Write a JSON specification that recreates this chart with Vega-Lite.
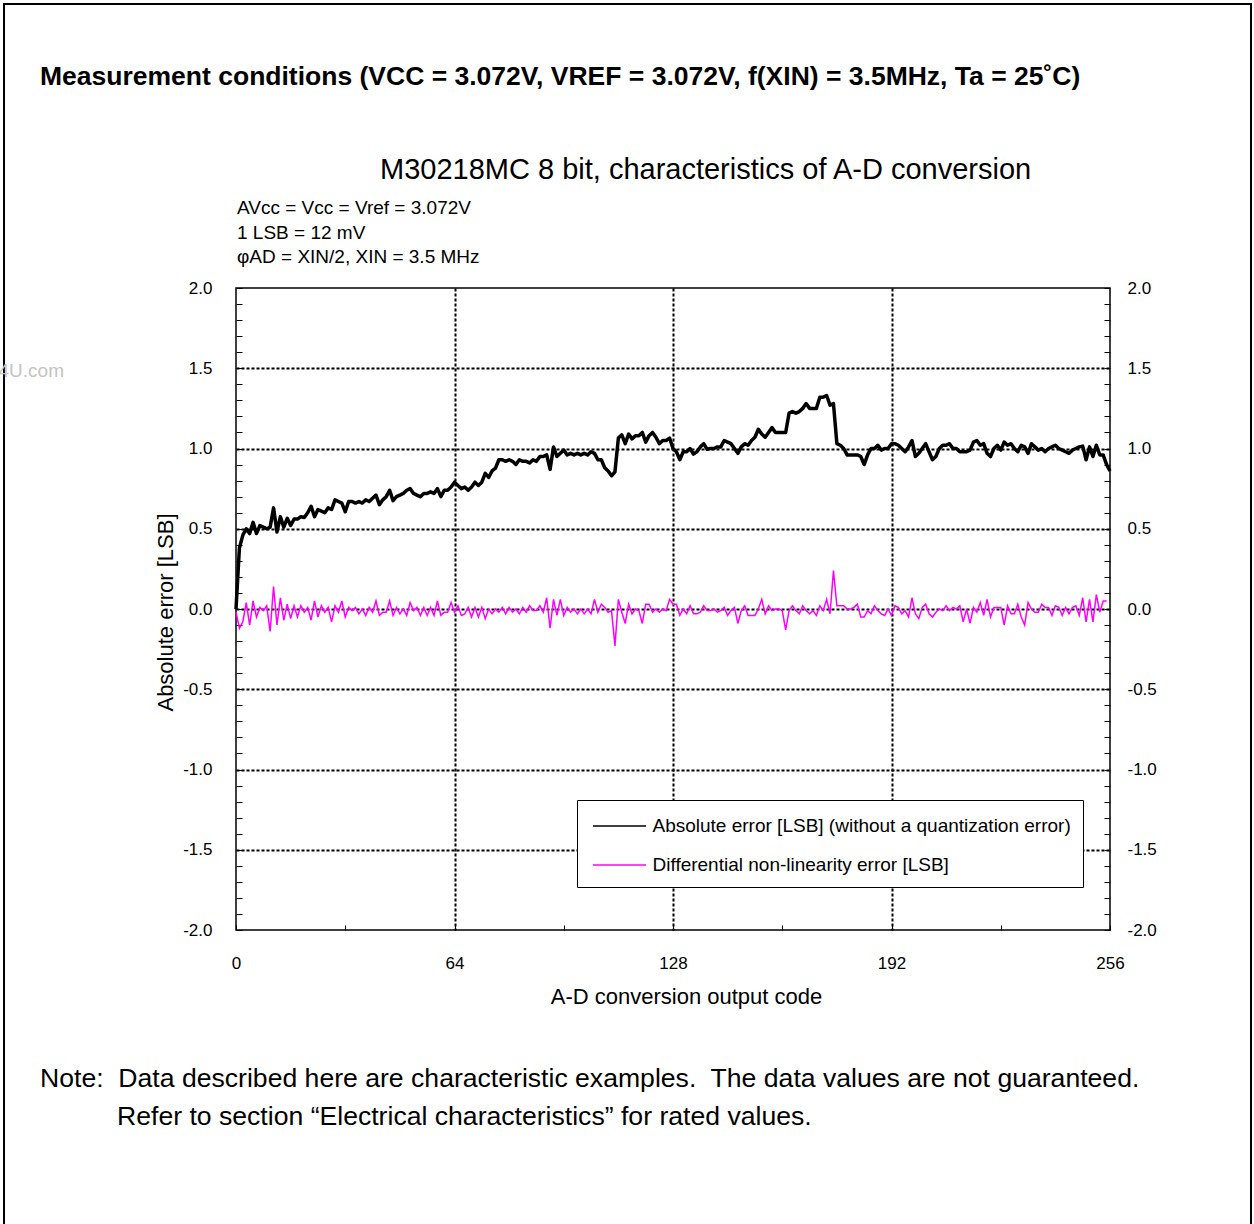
{
  "$schema": "https://vega.github.io/schema/vega-lite/v6.json",
  "width": 874,
  "height": 642,
  "autosize": {"type": "none"},
  "padding": {"left": 236, "top": 288, "right": 144, "bottom": 294},
  "background": "white",
  "config": {
    "font": "Liberation Sans",
    "view": {"stroke": "black", "strokeWidth": 1.5},
    "axis": {"domain": false, "labelColor": "black", "tickColor": "black", "titleColor": "black", "labelFontSize": 17, "titleFontSize": 22, "titleFontWeight": "normal", "labelFont": "Liberation Sans", "titleFont": "Liberation Sans"},
    "text": {"font": "Liberation Sans", "color": "black"}
  },
  "datasets": {
    "abs": [
      {"code":0,"lsb":0},{"code":1,"lsb":0.38},{"code":2,"lsb":0.46},{"code":3,"lsb":0.5},{"code":4,"lsb":0.47},{"code":5,"lsb":0.54},{"code":6,"lsb":0.47},{"code":7,"lsb":0.52},{"code":8,"lsb":0.51},{"code":9,"lsb":0.5},
      {"code":10,"lsb":0.51},{"code":11,"lsb":0.63},{"code":12,"lsb":0.48},{"code":13,"lsb":0.575},{"code":14,"lsb":0.51},{"code":15,"lsb":0.565},{"code":16,"lsb":0.52},{"code":17,"lsb":0.56},{"code":18,"lsb":0.56},{"code":19,"lsb":0.575},
      {"code":20,"lsb":0.57},{"code":21,"lsb":0.6},{"code":22,"lsb":0.64},{"code":23,"lsb":0.575},{"code":24,"lsb":0.62},{"code":25,"lsb":0.61},{"code":26,"lsb":0.6},{"code":27,"lsb":0.63},{"code":28,"lsb":0.62},{"code":29,"lsb":0.68},
      {"code":30,"lsb":0.67},{"code":31,"lsb":0.66},{"code":32,"lsb":0.606},{"code":33,"lsb":0.67},{"code":34,"lsb":0.67},{"code":35,"lsb":0.66},{"code":36,"lsb":0.67},{"code":37,"lsb":0.66},{"code":38,"lsb":0.68},{"code":39,"lsb":0.67},
      {"code":40,"lsb":0.69},{"code":41,"lsb":0.71},{"code":42,"lsb":0.65},{"code":43,"lsb":0.68},{"code":44,"lsb":0.7},{"code":45,"lsb":0.74},{"code":46,"lsb":0.675},{"code":47,"lsb":0.7},{"code":48,"lsb":0.71},{"code":49,"lsb":0.72},
      {"code":50,"lsb":0.74},{"code":51,"lsb":0.75},{"code":52,"lsb":0.72},{"code":53,"lsb":0.71},{"code":54,"lsb":0.7},{"code":55,"lsb":0.72},{"code":56,"lsb":0.72},{"code":57,"lsb":0.73},{"code":58,"lsb":0.72},{"code":59,"lsb":0.75},
      {"code":60,"lsb":0.7},{"code":61,"lsb":0.74},{"code":62,"lsb":0.74},{"code":63,"lsb":0.76},{"code":64,"lsb":0.79},{"code":65,"lsb":0.77},{"code":66,"lsb":0.75},{"code":67,"lsb":0.76},{"code":68,"lsb":0.74},{"code":69,"lsb":0.76},
      {"code":70,"lsb":0.79},{"code":71,"lsb":0.77},{"code":72,"lsb":0.79},{"code":73,"lsb":0.845},{"code":74,"lsb":0.82},{"code":75,"lsb":0.86},{"code":76,"lsb":0.877},{"code":77,"lsb":0.93},{"code":78,"lsb":0.93},{"code":79,"lsb":0.92},
      {"code":80,"lsb":0.93},{"code":81,"lsb":0.92},{"code":82,"lsb":0.9},{"code":83,"lsb":0.93},{"code":84,"lsb":0.92},{"code":85,"lsb":0.92},{"code":86,"lsb":0.91},{"code":87,"lsb":0.93},{"code":88,"lsb":0.92},{"code":89,"lsb":0.95},
      {"code":90,"lsb":0.95},{"code":91,"lsb":0.96},{"code":92,"lsb":0.87},{"code":93,"lsb":1.01},{"code":94,"lsb":0.95},{"code":95,"lsb":0.97},{"code":96,"lsb":0.99},{"code":97,"lsb":0.96},{"code":98,"lsb":0.97},{"code":99,"lsb":0.96},
      {"code":100,"lsb":0.97},{"code":101,"lsb":0.96},{"code":102,"lsb":0.97},{"code":103,"lsb":0.96},{"code":104,"lsb":0.98},{"code":105,"lsb":0.97},{"code":106,"lsb":0.93},{"code":107,"lsb":0.93},{"code":108,"lsb":0.88},{"code":109,"lsb":0.86},
      {"code":110,"lsb":0.83},{"code":111,"lsb":0.855},{"code":112,"lsb":1.065},{"code":113,"lsb":1.085},{"code":114,"lsb":1.03},{"code":115,"lsb":1.09},{"code":116,"lsb":1.06},{"code":117,"lsb":1.08},{"code":118,"lsb":1.08},{"code":119,"lsb":1.1},
      {"code":120,"lsb":1.04},{"code":121,"lsb":1.08},{"code":122,"lsb":1.1},{"code":123,"lsb":1.07},{"code":124,"lsb":1.03},{"code":125,"lsb":1.05},{"code":126,"lsb":1.05},{"code":127,"lsb":1.065},{"code":128,"lsb":1.0},{"code":129,"lsb":0.98},
      {"code":130,"lsb":0.93},{"code":131,"lsb":0.98},{"code":132,"lsb":0.98},{"code":133,"lsb":1.0},{"code":134,"lsb":0.965},{"code":135,"lsb":0.98},{"code":136,"lsb":1.01},{"code":137,"lsb":1.03},{"code":138,"lsb":0.995},{"code":139,"lsb":1.0},
      {"code":140,"lsb":1.0},{"code":141,"lsb":1.01},{"code":142,"lsb":1.01},{"code":143,"lsb":1.05},{"code":144,"lsb":1.04},{"code":145,"lsb":1.03},{"code":146,"lsb":1.0},{"code":147,"lsb":0.97},{"code":148,"lsb":1.01},{"code":149,"lsb":1.03},
      {"code":150,"lsb":1.02},{"code":151,"lsb":1.05},{"code":152,"lsb":1.07},{"code":153,"lsb":1.12},{"code":154,"lsb":1.09},{"code":155,"lsb":1.07},{"code":156,"lsb":1.1},{"code":157,"lsb":1.13},{"code":158,"lsb":1.1},{"code":159,"lsb":1.1},
      {"code":160,"lsb":1.1},{"code":161,"lsb":1.1},{"code":162,"lsb":1.22},{"code":163,"lsb":1.23},{"code":164,"lsb":1.22},{"code":165,"lsb":1.23},{"code":166,"lsb":1.25},{"code":167,"lsb":1.28},{"code":168,"lsb":1.25},{"code":169,"lsb":1.25},
      {"code":170,"lsb":1.25},{"code":171,"lsb":1.32},{"code":172,"lsb":1.32},{"code":173,"lsb":1.33},{"code":174,"lsb":1.27},{"code":175,"lsb":1.28},{"code":176,"lsb":1.03},{"code":177,"lsb":1.02},{"code":178,"lsb":1.0},{"code":179,"lsb":0.96},
      {"code":180,"lsb":0.96},{"code":181,"lsb":0.96},{"code":182,"lsb":0.96},{"code":183,"lsb":0.95},{"code":184,"lsb":0.9},{"code":185,"lsb":0.96},{"code":186,"lsb":1.0},{"code":187,"lsb":1.0},{"code":188,"lsb":1.02},{"code":189,"lsb":0.99},
      {"code":190,"lsb":1.0},{"code":191,"lsb":1.0},{"code":192,"lsb":1.03},{"code":193,"lsb":1.03},{"code":194,"lsb":1.02},{"code":195,"lsb":1.0},{"code":196,"lsb":0.98},{"code":197,"lsb":1.01},{"code":198,"lsb":1.05},{"code":199,"lsb":0.95},
      {"code":200,"lsb":0.97},{"code":201,"lsb":1.0},{"code":202,"lsb":1.03},{"code":203,"lsb":0.98},{"code":204,"lsb":0.93},{"code":205,"lsb":0.95},{"code":206,"lsb":1.0},{"code":207,"lsb":1.02},{"code":208,"lsb":1.02},{"code":209,"lsb":1.03},
      {"code":210,"lsb":1.0},{"code":211,"lsb":1.0},{"code":212,"lsb":0.98},{"code":213,"lsb":0.98},{"code":214,"lsb":0.98},{"code":215,"lsb":0.99},{"code":216,"lsb":1.04},{"code":217,"lsb":1.05},{"code":218,"lsb":1.02},{"code":219,"lsb":1.03},
      {"code":220,"lsb":0.97},{"code":221,"lsb":0.95},{"code":222,"lsb":1.0},{"code":223,"lsb":1.02},{"code":224,"lsb":0.99},{"code":225,"lsb":1.04},{"code":226,"lsb":1.02},{"code":227,"lsb":1.03},{"code":228,"lsb":1.0},{"code":229,"lsb":0.98},
      {"code":230,"lsb":1.02},{"code":231,"lsb":1.01},{"code":232,"lsb":0.97},{"code":233,"lsb":1.03},{"code":234,"lsb":1.01},{"code":235,"lsb":0.99},{"code":236,"lsb":1.0},{"code":237,"lsb":0.98},{"code":238,"lsb":1.0},{"code":239,"lsb":1.01},
      {"code":240,"lsb":1.02},{"code":241,"lsb":1.0},{"code":242,"lsb":0.99},{"code":243,"lsb":0.98},{"code":244,"lsb":0.97},{"code":245,"lsb":0.99},{"code":246,"lsb":1.0},{"code":247,"lsb":1.01},{"code":248,"lsb":1.015},{"code":249,"lsb":0.93},
      {"code":250,"lsb":1.01},{"code":251,"lsb":0.95},{"code":252,"lsb":1.02},{"code":253,"lsb":0.96},{"code":254,"lsb":0.96},{"code":255,"lsb":0.9},{"code":256,"lsb":0.86}
    ],
    "dnl": [
      {"code":0,"lsb":-0.02},{"code":1,"lsb":-0.12},{"code":2,"lsb":-0.08},{"code":3,"lsb":0.04},{"code":4,"lsb":-0.1},{"code":5,"lsb":0.05},{"code":6,"lsb":-0.05},{"code":7,"lsb":0.01},{"code":8,"lsb":-0.01},{"code":9,"lsb":0.02},
      {"code":10,"lsb":-0.14},{"code":11,"lsb":0.14},{"code":12,"lsb":-0.1},{"code":13,"lsb":0.07},{"code":14,"lsb":-0.07},{"code":15,"lsb":0.03},{"code":16,"lsb":-0.06},{"code":17,"lsb":0.02},{"code":18,"lsb":-0.05},{"code":19,"lsb":0.02},
      {"code":20,"lsb":-0.02},{"code":21,"lsb":0.01},{"code":22,"lsb":-0.07},{"code":23,"lsb":0.05},{"code":24,"lsb":-0.05},{"code":25,"lsb":0.02},{"code":26,"lsb":-0.02},{"code":27,"lsb":0.01},{"code":28,"lsb":-0.08},{"code":29,"lsb":0.02},
      {"code":30,"lsb":-0.02},{"code":31,"lsb":0.05},{"code":32,"lsb":-0.05},{"code":33,"lsb":0.01},{"code":34,"lsb":-0.01},{"code":35,"lsb":0.01},{"code":36,"lsb":-0.03},{"code":37,"lsb":0.0},{"code":38,"lsb":-0.04},{"code":39,"lsb":0.01},
      {"code":40,"lsb":-0.02},{"code":41,"lsb":0.05},{"code":42,"lsb":-0.04},{"code":43,"lsb":-0.02},{"code":44,"lsb":-0.02},{"code":45,"lsb":0.05},{"code":46,"lsb":-0.04},{"code":47,"lsb":0.01},{"code":48,"lsb":-0.03},{"code":49,"lsb":0.0},
      {"code":50,"lsb":-0.04},{"code":51,"lsb":0.04},{"code":52,"lsb":-0.01},{"code":53,"lsb":0.01},{"code":54,"lsb":-0.04},{"code":55,"lsb":0.01},{"code":56,"lsb":-0.04},{"code":57,"lsb":0.01},{"code":58,"lsb":-0.04},{"code":59,"lsb":0.05},
      {"code":60,"lsb":-0.04},{"code":61,"lsb":-0.02},{"code":62,"lsb":-0.02},{"code":63,"lsb":0.04},{"code":64,"lsb":-0.02},{"code":65,"lsb":0.02},{"code":66,"lsb":-0.04},{"code":67,"lsb":-0.03},{"code":68,"lsb":0.01},{"code":69,"lsb":-0.05},
      {"code":70,"lsb":0.01},{"code":71,"lsb":-0.05},{"code":72,"lsb":0.01},{"code":73,"lsb":-0.06},{"code":74,"lsb":0.0},{"code":75,"lsb":-0.03},{"code":76,"lsb":0.0},{"code":77,"lsb":-0.02},{"code":78,"lsb":0.01},{"code":79,"lsb":-0.03},
      {"code":80,"lsb":0.01},{"code":81,"lsb":-0.02},{"code":82,"lsb":0.0},{"code":83,"lsb":-0.03},{"code":84,"lsb":0.01},{"code":85,"lsb":-0.02},{"code":86,"lsb":0.02},{"code":87,"lsb":-0.01},{"code":88,"lsb":-0.01},{"code":89,"lsb":0.02},
      {"code":90,"lsb":-0.02},{"code":91,"lsb":0.07},{"code":92,"lsb":-0.12},{"code":93,"lsb":0.06},{"code":94,"lsb":-0.04},{"code":95,"lsb":0.06},{"code":96,"lsb":-0.04},{"code":97,"lsb":0.01},{"code":98,"lsb":-0.02},{"code":99,"lsb":0.0},
      {"code":100,"lsb":-0.03},{"code":101,"lsb":0.0},{"code":102,"lsb":-0.03},{"code":103,"lsb":0.0},{"code":104,"lsb":-0.03},{"code":105,"lsb":0.06},{"code":106,"lsb":-0.02},{"code":107,"lsb":0.03},{"code":108,"lsb":0.01},{"code":109,"lsb":-0.02},
      {"code":110,"lsb":-0.01},{"code":111,"lsb":-0.23},{"code":112,"lsb":0.06},{"code":113,"lsb":-0.02},{"code":114,"lsb":-0.09},{"code":115,"lsb":0.03},{"code":116,"lsb":-0.03},{"code":117,"lsb":0.0},{"code":118,"lsb":-0.01},{"code":119,"lsb":-0.09},
      {"code":120,"lsb":0.03},{"code":121,"lsb":0.03},{"code":122,"lsb":-0.02},{"code":123,"lsb":0.0},{"code":124,"lsb":-0.02},{"code":125,"lsb":0.0},{"code":126,"lsb":-0.01},{"code":127,"lsb":0.06},{"code":128,"lsb":0.03},{"code":129,"lsb":0.03},
      {"code":130,"lsb":-0.04},{"code":131,"lsb":0.0},{"code":132,"lsb":-0.03},{"code":133,"lsb":0.02},{"code":134,"lsb":-0.03},{"code":135,"lsb":-0.03},{"code":136,"lsb":-0.02},{"code":137,"lsb":0.02},{"code":138,"lsb":-0.01},{"code":139,"lsb":-0.01},
      {"code":140,"lsb":0.0},{"code":141,"lsb":-0.02},{"code":142,"lsb":-0.01},{"code":143,"lsb":0.01},{"code":144,"lsb":-0.04},{"code":145,"lsb":-0.01},{"code":146,"lsb":0.01},{"code":147,"lsb":-0.09},{"code":148,"lsb":-0.01},{"code":149,"lsb":0.02},
      {"code":150,"lsb":-0.04},{"code":151,"lsb":-0.04},{"code":152,"lsb":-0.04},{"code":153,"lsb":0.0},{"code":154,"lsb":0.06},{"code":155,"lsb":-0.03},{"code":156,"lsb":0.02},{"code":157,"lsb":-0.01},{"code":158,"lsb":0.0},{"code":159,"lsb":0.0},
      {"code":160,"lsb":-0.01},{"code":161,"lsb":-0.13},{"code":162,"lsb":-0.01},{"code":163,"lsb":0.02},{"code":164,"lsb":-0.01},{"code":165,"lsb":-0.03},{"code":166,"lsb":0.02},{"code":167,"lsb":-0.01},{"code":168,"lsb":-0.03},{"code":169,"lsb":-0.01},
      {"code":170,"lsb":-0.04},{"code":171,"lsb":0.02},{"code":172,"lsb":-0.01},{"code":173,"lsb":0.06},{"code":174,"lsb":-0.03},{"code":175,"lsb":0.24},{"code":176,"lsb":0.02},{"code":177,"lsb":0.02},{"code":178,"lsb":0.02},{"code":179,"lsb":0.0},
      {"code":180,"lsb":0.0},{"code":181,"lsb":0.01},{"code":182,"lsb":0.03},{"code":183,"lsb":-0.05},{"code":184,"lsb":-0.05},{"code":185,"lsb":-0.01},{"code":186,"lsb":-0.03},{"code":187,"lsb":0.02},{"code":188,"lsb":-0.01},{"code":189,"lsb":-0.03},
      {"code":190,"lsb":-0.04},{"code":191,"lsb":0.0},{"code":192,"lsb":-0.04},{"code":193,"lsb":0.02},{"code":194,"lsb":0.01},{"code":195,"lsb":-0.03},{"code":196,"lsb":-0.01},{"code":197,"lsb":-0.05},{"code":198,"lsb":0.07},{"code":199,"lsb":-0.03},
      {"code":200,"lsb":-0.06},{"code":201,"lsb":0.01},{"code":202,"lsb":0.03},{"code":203,"lsb":-0.03},{"code":204,"lsb":-0.05},{"code":205,"lsb":-0.02},{"code":206,"lsb":0.0},{"code":207,"lsb":-0.01},{"code":208,"lsb":0.02},{"code":209,"lsb":-0.01},
      {"code":210,"lsb":0.01},{"code":211,"lsb":0.0},{"code":212,"lsb":0.02},{"code":213,"lsb":-0.08},{"code":214,"lsb":0.0},{"code":215,"lsb":-0.09},{"code":216,"lsb":0.01},{"code":217,"lsb":-0.02},{"code":218,"lsb":0.04},{"code":219,"lsb":-0.04},
      {"code":220,"lsb":0.06},{"code":221,"lsb":-0.05},{"code":222,"lsb":0.01},{"code":223,"lsb":0.01},{"code":224,"lsb":0.01},{"code":225,"lsb":-0.1},{"code":226,"lsb":0.02},{"code":227,"lsb":-0.03},{"code":228,"lsb":-0.03},{"code":229,"lsb":0.03},
      {"code":230,"lsb":-0.05},{"code":231,"lsb":-0.1},{"code":232,"lsb":0.04},{"code":233,"lsb":0.0},{"code":234,"lsb":-0.02},{"code":235,"lsb":-0.02},{"code":236,"lsb":0.03},{"code":237,"lsb":0.01},{"code":238,"lsb":0.01},{"code":239,"lsb":-0.04},
      {"code":240,"lsb":0.02},{"code":241,"lsb":0.01},{"code":242,"lsb":-0.04},{"code":243,"lsb":0.01},{"code":244,"lsb":-0.03},{"code":245,"lsb":0.01},{"code":246,"lsb":0.02},{"code":247,"lsb":-0.04},{"code":248,"lsb":0.07},{"code":249,"lsb":-0.08},
      {"code":250,"lsb":0.06},{"code":251,"lsb":-0.08},{"code":252,"lsb":0.09},{"code":253,"lsb":-0.02},{"code":254,"lsb":0.05},{"code":255,"lsb":0.05}
    ]
  },
  "resolve": {"axis": {"y": "independent"}},
  "layer": [
    {
      "data": {"name": "abs"},
      "mark": {"type": "line", "color": "black", "strokeWidth": 3.5, "strokeJoin": "round"},
      "encoding": {
        "x": {"field": "code", "type": "quantitative", "scale": {"domain": [0, 256], "nice": false, "zero": false},
          "axis": {"title": "A-D conversion output code", "values": [0, 32, 64, 96, 128, 160, 192, 224, 256],
            "labelExpr": "datum.value % 64 == 0 ? datum.label : ''", "labelPadding": 30, "tickSize": -5, "labelFlush": false,
            "grid": true, "gridColor": "black", "gridDash": [3, 2], "gridWidth": 2,
            "gridOpacity": {"condition": {"test": "datum.value == 64 || datum.value == 128 || datum.value == 192", "value": 1}, "value": 0},
            "titleX": 450, "titleY": 66, "titleBaseline": "middle"}},
        "y": {"field": "lsb", "type": "quantitative", "scale": {"domain": [-2, 2], "nice": false, "zero": false},
          "axis": {"orient": "left", "title": "Absolute error [LSB]",
            "values": [-2, -1.9, -1.8, -1.7, -1.6, -1.5, -1.4, -1.3, -1.2, -1.1, -1, -0.9, -0.8, -0.7, -0.6, -0.5, -0.4, -0.3, -0.2, -0.1, 0, 0.1, 0.2, 0.3, 0.4, 0.5, 0.6, 0.7, 0.8, 0.9, 1, 1.1, 1.2, 1.3, 1.4, 1.5, 1.6, 1.7, 1.8, 1.9, 2],
            "labelExpr": "abs(datum.value*2 - round(datum.value*2)) < 0.01 ? replace(format(datum.value, '.1f'), '\u2212', '-') : ''",
            "labelPadding": 30, "tickSize": -6,
            "grid": true, "gridColor": "black", "gridDash": [3, 2], "gridWidth": 2,
            "gridOpacity": {"condition": {"test": "abs(datum.value) < 1.9 && abs(datum.value*2 - round(datum.value*2)) < 0.01", "value": 1}, "value": 0},
            "titleAngle": -90, "titleX": -71, "titleY": 324, "titleBaseline": "middle", "titleAlign": "center"}},
        "color": {"datum": "Absolute error [LSB] (without a quantization error)", "type": "nominal",
          "scale": {"domain": ["Absolute error [LSB] (without a quantization error)", "Differential non-linearity error [LSB]"], "range": ["#000000", "#ff00ff"]},
          "legend": {"title": null, "orient": "none", "legendX": 341, "legendY": 512, "padding": 12, "strokeColor": "black", "fillColor": "white",
            "symbolType": "M-2,0H2", "symbolSize": 702.25, "symbolStrokeWidth": 1.5, "symbolOffset": 16.5, "labelFontSize": 19, "labelOffset": 19, "labelLimit": 600, "rowPadding": 15, "labelColor": "black"}}
      }
    },
    {
      "data": {"name": "dnl"},
      "mark": {"type": "line", "color": "#ff00ff", "strokeWidth": 1.5},
      "encoding": {
        "x": {"field": "code", "type": "quantitative", "scale": {"domain": [0, 256], "nice": false, "zero": false},
          "axis": {"title": "A-D conversion output code", "values": [0, 32, 64, 96, 128, 160, 192, 224, 256],
            "labelExpr": "datum.value % 64 == 0 ? datum.label : ''", "labelPadding": 30, "tickSize": -5, "labelFlush": false,
            "grid": true, "gridColor": "black", "gridDash": [3, 2], "gridWidth": 2,
            "gridOpacity": {"condition": {"test": "datum.value == 64 || datum.value == 128 || datum.value == 192", "value": 1}, "value": 0},
            "titleX": 450, "titleY": 66, "titleBaseline": "middle"}},
        "y": {"field": "lsb", "type": "quantitative", "scale": {"domain": [-2, 2], "nice": false, "zero": false},
          "axis": {"orient": "right", "title": null,
            "values": [-2, -1.9, -1.8, -1.7, -1.6, -1.5, -1.4, -1.3, -1.2, -1.1, -1, -0.9, -0.8, -0.7, -0.6, -0.5, -0.4, -0.3, -0.2, -0.1, 0, 0.1, 0.2, 0.3, 0.4, 0.5, 0.6, 0.7, 0.8, 0.9, 1, 1.1, 1.2, 1.3, 1.4, 1.5, 1.6, 1.7, 1.8, 1.9, 2],
            "labelExpr": "abs(datum.value*2 - round(datum.value*2)) < 0.01 ? replace(format(datum.value, '.1f'), '\u2212', '-') : ''",
            "labelPadding": 23, "tickSize": -6, "grid": false}},
        "color": {"datum": "Differential non-linearity error [LSB]", "type": "nominal",
          "scale": {"domain": ["Absolute error [LSB] (without a quantization error)", "Differential non-linearity error [LSB]"], "range": ["#000000", "#ff00ff"]},
          "legend": {"title": null, "orient": "none", "legendX": 341, "legendY": 512, "padding": 12, "strokeColor": "black", "fillColor": "white",
            "symbolType": "M-2,0H2", "symbolSize": 702.25, "symbolStrokeWidth": 1.5, "symbolOffset": 16.5, "labelFontSize": 19, "labelOffset": 19, "labelLimit": 600, "rowPadding": 15, "labelColor": "black"}}
      }
    },
    {
      "data": {"values": [{}]},
      "mark": {"type": "rect", "fill": null, "fillOpacity": 0, "stroke": "black", "strokeWidth": 2},
      "encoding": {
        "x": {"datum": -67.95, "type": "quantitative", "scale": {"domain": [0, 256], "nice": false, "zero": false}},
        "x2": {"datum": 297.3},
        "y": {"datum": 3.769, "type": "quantitative", "scale": {"domain": [-2, 2], "nice": false, "zero": false}, "axis": null},
        "y2": {"datum": -5}
      }
    },
    {
      "data": {"values": [{}]},
      "mark": {"type": "text", "text": "Measurement conditions (VCC = 3.072V, VREF = 3.072V, f(XIN) = 3.5MHz, Ta = 25˚C)", "align": "left", "baseline": "middle", "fontSize": 26.5, "fontWeight": "bold"},
      "encoding": {
        "x": {"datum": -57.41, "type": "quantitative", "scale": {"domain": [0, 256], "nice": false, "zero": false}},
        "y": {"datum": 3.3146, "type": "quantitative", "scale": {"domain": [-2, 2], "nice": false, "zero": false}, "axis": null}
      }
    },
    {
      "data": {"values": [{}]},
      "mark": {"type": "text", "text": "M30218MC 8 bit, characteristics of A-D conversion", "align": "left", "baseline": "middle", "fontSize": 29},
      "encoding": {
        "x": {"datum": 42.18, "type": "quantitative", "scale": {"domain": [0, 256], "nice": false, "zero": false}},
        "y": {"datum": 2.7352, "type": "quantitative", "scale": {"domain": [-2, 2], "nice": false, "zero": false}, "axis": null}
      }
    },
    {
      "data": {"values": [{}]},
      "mark": {"type": "text", "text": "AVcc = Vcc = Vref = 3.072V", "align": "left", "baseline": "middle", "fontSize": 19},
      "encoding": {
        "x": {"datum": 0.3, "type": "quantitative", "scale": {"domain": [0, 256], "nice": false, "zero": false}},
        "y": {"datum": 2.4984, "type": "quantitative", "scale": {"domain": [-2, 2], "nice": false, "zero": false}, "axis": null}
      }
    },
    {
      "data": {"values": [{}]},
      "mark": {"type": "text", "text": "1 LSB = 12 mV", "align": "left", "baseline": "middle", "fontSize": 19},
      "encoding": {
        "x": {"datum": 0.3, "type": "quantitative", "scale": {"domain": [0, 256], "nice": false, "zero": false}},
        "y": {"datum": 2.3427, "type": "quantitative", "scale": {"domain": [-2, 2], "nice": false, "zero": false}, "axis": null}
      }
    },
    {
      "data": {"values": [{}]},
      "mark": {"type": "text", "text": "φAD = XIN/2, XIN = 3.5 MHz", "align": "left", "baseline": "middle", "fontSize": 19},
      "encoding": {
        "x": {"datum": 0.3, "type": "quantitative", "scale": {"domain": [0, 256], "nice": false, "zero": false}},
        "y": {"datum": 2.1931, "type": "quantitative", "scale": {"domain": [-2, 2], "nice": false, "zero": false}, "axis": null}
      }
    },
    {
      "data": {"values": [{}]},
      "mark": {"type": "text", "text": "Note:\u00a0 Data described here are characteristic examples.\u00a0 The data values are not guaranteed.", "align": "left", "baseline": "middle", "fontSize": 26.6},
      "encoding": {
        "x": {"datum": -57.41, "type": "quantitative", "scale": {"domain": [0, 256], "nice": false, "zero": false}},
        "y": {"datum": -2.9283, "type": "quantitative", "scale": {"domain": [-2, 2], "nice": false, "zero": false}, "axis": null}
      }
    },
    {
      "data": {"values": [{}]},
      "mark": {"type": "text", "text": "Refer to section “Electrical characteristics” for rated values.", "align": "left", "baseline": "middle", "fontSize": 26.6},
      "encoding": {
        "x": {"datum": -34.856, "type": "quantitative", "scale": {"domain": [0, 256], "nice": false, "zero": false}},
        "y": {"datum": -3.1651, "type": "quantitative", "scale": {"domain": [-2, 2], "nice": false, "zero": false}, "axis": null}
      }
    },
    {
      "data": {"values": [{}]},
      "mark": {"type": "text", "text": "www.DataSheet4U.com", "align": "right", "baseline": "middle", "fontSize": 19, "color": "#c4c4c4"},
      "encoding": {
        "x": {"datum": -50.38, "type": "quantitative", "scale": {"domain": [0, 256], "nice": false, "zero": false}},
        "y": {"datum": 1.4829, "type": "quantitative", "scale": {"domain": [-2, 2], "nice": false, "zero": false}, "axis": null}
      }
    }
  ]
}
